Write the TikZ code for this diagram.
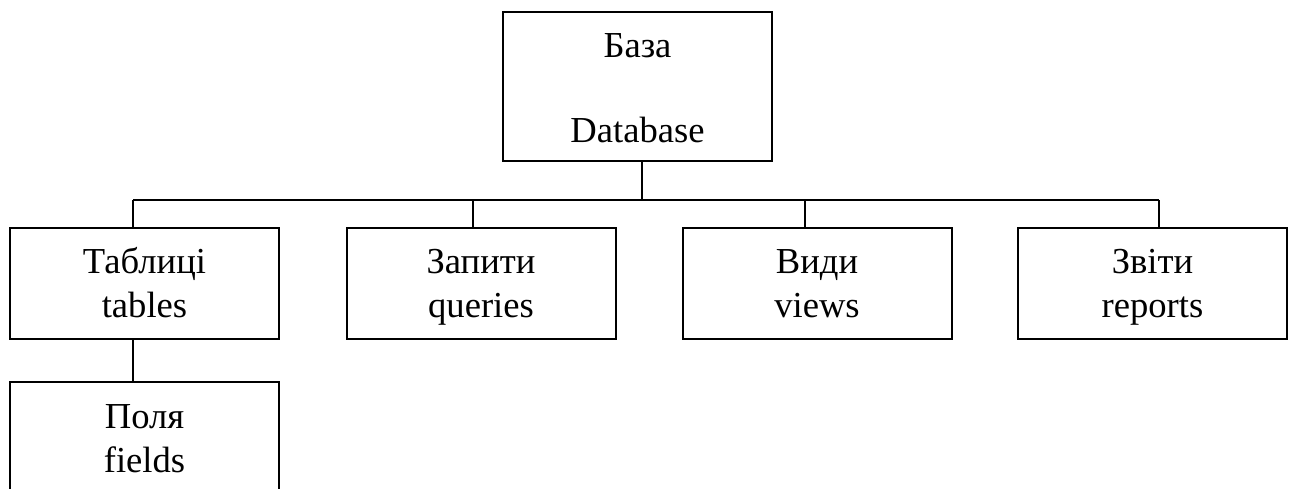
\documentclass[tikz,border=0pt]{standalone}
\usepackage{fontspec}
\setmainfont{Liberation Serif}
\begin{document}
\begin{tikzpicture}[x=0.5pt,y=-0.5pt,
  box/.style={draw,line width=1pt,rectangle,inner sep=0pt},
  txt/.style={anchor=base,inner sep=0pt,font=\fontsize{18.3pt}{22pt}\selectfont},
  link/.style={line width=1pt}]
\useasboundingbox (0,0) rectangle (1292,488);
\clip (0,0) rectangle (1292,488);
% boxes
\node[box,minimum width=134.5pt,minimum height=74.5pt] (db) at (637.5,86.5) {};
\node[box,minimum width=134.5pt,minimum height=55.5pt] (tab) at (144.5,283.5) {};
\node[box,minimum width=134.5pt,minimum height=55.5pt] (qry) at (481,283.5) {};
\node[box,minimum width=134.5pt,minimum height=55.5pt] (vw) at (817,283.5) {};
\node[box,minimum width=134.5pt,minimum height=70pt] (fld) at (144.5,452) {};
\node[box,minimum width=134.5pt,minimum height=55.5pt] (rep) at (1152.5,283.5) {};
% labels
\node[txt] (dbA) at (637.5,57) {База};
\node[txt] (dbB) at (637.5,142) {Database};
\node[txt] (tabA) at (144.5,273) {Таблиці};
\node[txt] (tabB) at (144.5,317) {tables};
\node[txt] (qryA) at (481,273) {Запити};
\node[txt] (qryB) at (481,317) {queries};
\node[txt] (vwA) at (817,273) {Види};
\node[txt] (vwB) at (817,317) {views};
\node[txt] (repA) at (1152.5,273) {Звіти};
\node[txt] (repB) at (1152.5,317) {reports};
\node[txt] (fldA) at (144.5,428) {Поля};
\node[txt] (fldB) at (144.5,472) {fields};
% bus taps
\coordinate (hub) at (642,200);
\coordinate (t1) at (133,200);
\coordinate (t2) at (473,200);
\coordinate (t3) at (805,200);
\coordinate (t4) at (1159,200);
\coordinate (t5) at (133,339);
% connectors
\draw[link] (hub |- db.south) -- (hub);
\draw[link] (t1) -- (t4);
\draw[link] (t1) -- (t1 |- tab.north);
\draw[link] (t2) -- (t2 |- qry.north);
\draw[link] (t3) -- (t3 |- vw.north);
\draw[link] (t4) -- (t4 |- rep.north);
\draw[link] (t5 |- tab.south) -- (t5 |- fld.north);
\end{tikzpicture}
\end{document}
